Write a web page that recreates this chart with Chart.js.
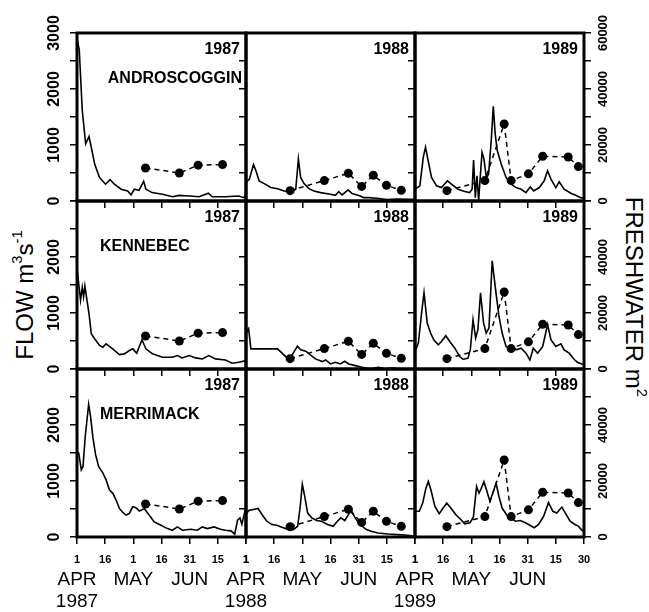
<!DOCTYPE html>
<html>
<head>
<meta charset="utf-8">
<script src="https://cdn.jsdelivr.net/npm/chart.js@4.4.0/dist/chart.umd.min.js"></script>
<style>
html,body{margin:0;padding:0;background:#fff;}
#wrap{position:relative;width:649px;height:612px;overflow:hidden;font-family:"Liberation Sans",Arial,sans-serif;color:#000;}
#wrap canvas{position:absolute;}
.ttl{position:absolute;font-size:24px;white-space:nowrap;line-height:1;}
.ttl sup{font-size:0.62em;vertical-align:0.75em;line-height:0;}
#flowTitle{left:25px;top:295px;transform:translate(-50%,-50%) rotate(-90deg);}
#freshTitle{left:634px;top:297px;transform:translate(-50%,-50%) rotate(90deg);}
</style>
</head>
<body>
<div id="wrap">
  <div class="ttl" id="flowTitle">FLOW m<sup>3</sup>s<sup>-1</sup></div>
  <div class="ttl" id="freshTitle">FRESHWATER m<sup>2</sup></div>
</div>
<script>
// flow (m3/s) by day after Apr 1
const andro87Days = [0, 1.2, 2.8, 4.6, 6.4, 7.6, 9.4, 12, 15.2, 17.6, 19.9, 23.5, 27, 28.8, 30.5, 33, 35.5, 36.7, 40, 45.5, 50.8, 54.4, 60, 65, 70, 72, 79, 86, 88.8, 90];
const andro87Flow = [2900, 2700, 1620, 1020, 1150, 960, 660, 420, 300, 380, 300, 210, 180, 110, 210, 190, 350, 210, 150, 120, 75, 100, 90, 75, 140, 75, 75, 90, 60, 120];

const andro88Days = [0, 1.8, 4, 5.3, 7, 9.7, 13.2, 16.8, 20.3, 23.8, 26.5, 27.9, 29.1, 30.9, 33.5, 36.2, 39.7, 45, 47.6, 49.4, 51.2, 54.4, 56.5, 60.9, 62.6, 65.3, 69.7, 75, 80.3, 87.4, 90];
const andro88Flow = [330, 390, 650, 540, 360, 310, 240, 220, 180, 160, 210, 750, 420, 310, 220, 180, 150, 120, 100, 168, 108, 198, 132, 90, 60, 60, 48, 24, 36, 30, 30];

const andro89Days = [0, 2.6, 4.4, 5.6, 7, 8.8, 11.5, 14.1, 17.3, 19.4, 22.9, 26.5, 29.1, 30.4, 31.2, 32.1, 33, 33.9, 34.6, 35.7, 36.7, 38, 39.2, 40.6, 41.7, 42.7, 43.8, 45.9, 48.5, 51.2, 53.8, 56.5, 59.1, 61.4, 63.2, 66.2, 68.8, 70.6, 72.4, 75, 76.8, 79.4, 83, 85.6, 88.2, 90];
const andro89Flow = [210, 270, 780, 960, 720, 420, 270, 240, 360, 300, 210, 168, 150, 210, 730, 60, 450, 12, 360, 870, 750, 420, 480, 1080, 1690, 1200, 900, 660, 420, 300, 240, 210, 150, 252, 180, 240, 360, 540, 390, 240, 342, 210, 138, 102, 60, 50];

const kenn87Days = [0, 1, 1.9, 2.8, 3.5, 4.2, 5.3, 6.4, 7.6, 9.4, 12, 13.8, 15.5, 19, 22.6, 25.2, 27.9, 29.7, 31.8, 34.6, 36.7, 40.2, 45.5, 50.8, 53.5, 56, 59.7, 63.2, 66.7, 70.2, 73.8, 79, 82.6, 86.1, 90];
const kenn87Flow = [1800, 1500, 1230, 1458, 1290, 1482, 1230, 990, 630, 540, 420, 390, 450, 360, 258, 270, 330, 360, 282, 522, 360, 270, 210, 210, 240, 198, 240, 198, 180, 240, 180, 162, 102, 120, 150];

const kenn88Days = [0, 1.4, 2.6, 16.8, 23, 27.4, 29.1, 31.8, 37, 40.6, 42.4, 45, 47.6, 50.3, 52.6, 54.7, 58.2, 61.8, 66.2, 70.6, 74, 77.6, 83, 88, 90];
const kenn88Flow = [630, 720, 360, 360, 162, 408, 342, 318, 180, 132, 162, 90, 120, 90, 138, 90, 60, 30, 5, 30, 5, 18, 5, 5, 5];

const kenn89Days = [0, 1.8, 3.5, 4.8, 6.5, 8.3, 10, 12.4, 14.1, 16.4, 18.5, 21.2, 23.8, 25.6, 28.2, 29.5, 30.9, 32.3, 33.5, 34.9, 36.5, 37.9, 39.4, 41.1, 42.9, 44.7, 46.4, 48.5, 50.3, 52, 53.8, 56.5, 59.1, 61.2, 63, 65.3, 68, 70.6, 72.4, 75, 77.7, 79.4, 82.1, 84.7, 86.5, 89.1, 90];
const kenn89Flow = [312, 462, 1000, 1362, 822, 642, 522, 432, 492, 594, 492, 372, 222, 174, 192, 354, 882, 552, 702, 1362, 822, 642, 732, 1932, 1422, 942, 642, 402, 372, 402, 342, 372, 282, 162, 372, 282, 402, 792, 522, 402, 450, 342, 282, 174, 120, 84, 80];

const merr87Days = [0, 0.9, 2.3, 3.2, 4.4, 6.2, 7.2, 8.5, 9.9, 11.5, 13.8, 15.5, 17.3, 19.1, 20.8, 22.6, 24.4, 26.1, 27.9, 29.7, 31.4, 33.2, 35.8, 38.5, 41.1, 44.7, 48.2, 50.8, 53.5, 56.1, 60.5, 64.1, 66.7, 69.4, 72.9, 76.4, 79.1, 82, 84, 85.5, 86.8, 87.8, 89.5, 90];
const merr87Flow = [1530, 1500, 1200, 1260, 1800, 2370, 2160, 1770, 1470, 1260, 1140, 1020, 840, 780, 660, 510, 438, 390, 420, 540, 522, 462, 510, 390, 270, 210, 150, 120, 180, 120, 138, 120, 180, 150, 180, 138, 120, 110, 50, 300, 340, 230, 470, 500];

const merr88Days = [0, 1.4, 4, 6.4, 8.5, 11.1, 13.8, 16.4, 19.1, 22.6, 25.2, 27.5, 28.8, 30, 31.4, 32.8, 35, 37.6, 40.2, 43.4, 46.4, 48.7, 50.5, 52.6, 54.4, 55.8, 57.9, 60, 61.8, 64.1, 66.7, 70.2, 75.5, 80.8, 86.1, 90];
const merr88Flow = [402, 474, 492, 510, 402, 282, 222, 210, 174, 132, 132, 192, 522, 942, 702, 432, 342, 294, 282, 222, 192, 282, 342, 294, 390, 492, 354, 252, 192, 132, 102, 72, 54, 42, 30, 12];

const merr89Days = [0, 2.3, 4.1, 5.8, 7.1, 8.5, 10.6, 12.9, 14.6, 16.9, 19.1, 21.7, 24.4, 26.5, 29.3, 31.1, 32.8, 34.1, 35.3, 36.7, 38.1, 39.9, 41.7, 43.2, 44.7, 46.4, 49.1, 51.7, 53.5, 56.1, 58.8, 61.4, 63.5, 65.8, 68.5, 71.1, 73.4, 75.5, 78.2, 80, 82.6, 85.2, 87, 88.8, 90];
const merr89Flow = [460, 460, 606, 870, 990, 840, 547, 417, 500, 606, 517, 400, 312, 235, 253, 359, 900, 782, 870, 988, 840, 635, 811, 958, 723, 517, 382, 323, 282, 294, 253, 206, 165, 223, 370, 617, 459, 429, 535, 429, 282, 223, 194, 123, 100];

// freshwater area (m2), same in every row of a year
const fresh87Days = [36.5, 54.5, 64.5, 77.5];
const fresh87Area = [11800, 10000, 12800, 13000];
const fresh88Days = [23.5, 41.7, 54.5, 61.6, 67.8, 74.8, 82.7];
const fresh88Area = [3700, 7300, 9900, 5200, 9200, 5600, 3800];
const fresh89Days = [17, 37.2, 47.5, 51.2, 60.4, 68, 81.6, 87];
const fresh89Area = [3700, 7300, 27500, 7300, 9700, 16000, 15700, 12300];

const rivers = ['ANDROSCOGGIN', 'KENNEBEC', 'MERRIMACK'];
const years = ['1987', '1988', '1989'];
const months = ['APR', 'MAY', 'JUN'];
const monthDays = [0, 30, 60];
const xTickLabels = ['1', '16', '1', '16', '31', '15', '1'];
const xTickLabelsLast = ['1', '16', '1', '16', '31', '15', '30'];
const flowLabelsTop = [0, 1000, 2000, 3000];
const flowLabels = [0, 1000, 2000];
const areaLabelsTop = [0, 20000, 40000, 60000];
const areaLabels = [0, 20000, 40000];

const flowDays = [[andro87Days, andro88Days, andro89Days], [kenn87Days, kenn88Days, kenn89Days], [merr87Days, merr88Days, merr89Days]];
const flowVals = [[andro87Flow, andro88Flow, andro89Flow], [kenn87Flow, kenn88Flow, kenn89Flow], [merr87Flow, merr88Flow, merr89Flow]];
const freshDays = [fresh87Days, fresh88Days, fresh89Days];
const freshArea = [fresh87Area, fresh88Area, fresh89Area];

// layout
const COL_LEFT = [77, 246, 415], ROW_TOP = [33, 201, 369], PW = 169, PH = 168;
const ML = 77, MR = 65, MT = 33, MB = 75;
const FONT = '"Liberation Sans", Arial, sans-serif';

Chart.defaults.font.family = FONT;
Chart.defaults.color = '#000';

function decoPlugin(r, c) {
  return {
    id: 'deco',
    afterDraw(chart) {
      const ctx = chart.ctx, a = chart.chartArea, sc = chart.scales;
      ctx.save();
      ctx.strokeStyle = '#000';
      ctx.lineWidth = 3;
      ctx.strokeRect(a.left, a.top, a.right - a.left, a.bottom - a.top);
      ctx.fillStyle = '#000';
      ctx.font = 'bold 16px ' + FONT;
      ctx.textBaseline = 'middle';
      ctx.textAlign = 'right';
      ctx.fillText(years[c], a.right - 6, a.top + 17);
      if (c === 0) {
        if (r === 0) { ctx.textAlign = 'right'; ctx.fillText(rivers[r], a.right - 4, a.top + 46); }
        else { ctx.textAlign = 'left'; ctx.fillText(rivers[r], a.left + 23, a.top + 46); }
        // rotated flow tick labels
        ctx.font = 'bold 16px ' + FONT;
        (r === 0 ? flowLabelsTop : flowLabels).forEach(v => {
          ctx.save();
          ctx.translate(a.left - 22, sc.y.getPixelForValue(v));
          ctx.rotate(-Math.PI / 2);
          ctx.textAlign = 'center';
          ctx.fillText(String(v), 0, 0);
          ctx.restore();
        });
      }
      if (c === 2) {
        ctx.font = 'bold 13px ' + FONT;
        (r === 0 ? areaLabelsTop : areaLabels).forEach(v => {
          ctx.save();
          ctx.translate(a.right + 19, sc.y2.getPixelForValue(v));
          ctx.rotate(-Math.PI / 2);
          ctx.textAlign = 'center';
          ctx.fillText(String(v), 0, 0);
          ctx.restore();
        });
      }
      if (r === 2) {
        ctx.font = '19px ' + FONT;
        ctx.textAlign = 'center';
        months.forEach((m, i) => ctx.fillText(m, sc.x.getPixelForValue(monthDays[i]), a.bottom + 43));
        ctx.fillText(years[c], sc.x.getPixelForValue(0), a.bottom + 65);
      }
      ctx.restore();
    }
  };
}

const wrap = document.getElementById('wrap');
for (let r = 0; r < 3; r++) {
  for (let c = 0; c < 3; c++) {
    const cv = document.createElement('canvas');
    cv.width = ML + PW + MR;
    cv.height = MT + PH + MB;
    cv.style.left = (COL_LEFT[c] - ML) + 'px';
    cv.style.top = (ROW_TOP[r] - MT) + 'px';
    wrap.appendChild(cv);
    const labels = c === 2 ? xTickLabelsLast : xTickLabels;
    new Chart(cv, {
      type: 'line',
      data: {
        datasets: [
          {
            data: flowDays[r][c].map((d, i) => ({ x: d, y: flowVals[r][c][i] })),
            yAxisID: 'y', borderColor: '#000', borderWidth: 1.6,
            pointRadius: 0, tension: 0, fill: false
          },
          {
            data: freshDays[c].map((d, i) => ({ x: d, y: freshArea[c][i] })),
            yAxisID: 'y2', borderColor: '#000', borderWidth: 1.5, borderDash: [5, 4],
            pointRadius: 4.5, pointBackgroundColor: '#000', pointBorderWidth: 0,
            tension: 0, fill: false
          }
        ]
      },
      options: {
        responsive: false, animation: false, devicePixelRatio: 1,
        layout: { padding: { top: MT, left: 0, right: 0, bottom: 0 } },
        plugins: { legend: { display: false }, tooltip: { enabled: false } },
        scales: {
          x: {
            type: 'linear', min: 0, max: 90,
            border: { display: false },
            grid: { drawOnChartArea: false, drawTicks: true, tickLength: 7, color: '#000', lineWidth: 1.5 },
            ticks: {
              display: r === 2, stepSize: 15, autoSkip: false, maxRotation: 0, padding: 9,
              font: { size: 11, weight: 'bold' }, color: '#000',
              callback: (v, i) => labels[i]
            },
            afterFit: s => { s.height = MB; }
          },
          y: {
            position: 'left', min: 0, max: 3000,
            border: { display: false },
            grid: { drawOnChartArea: false, drawTicks: true, tickLength: 7, color: '#000', lineWidth: 1.5 },
            ticks: { display: false, stepSize: 500 },
            afterFit: s => { s.width = ML; }
          },
          y2: {
            position: 'right', min: 0, max: 60000,
            border: { display: false },
            grid: { drawOnChartArea: false, drawTicks: c === 2, tickLength: 7, color: '#000', lineWidth: 1.5 },
            ticks: { display: false, stepSize: 10000 },
            afterFit: s => { s.width = MR; }
          }
        }
      },
      plugins: [decoPlugin(r, c)]
    });
  }
}
</script>
</body>
</html>
